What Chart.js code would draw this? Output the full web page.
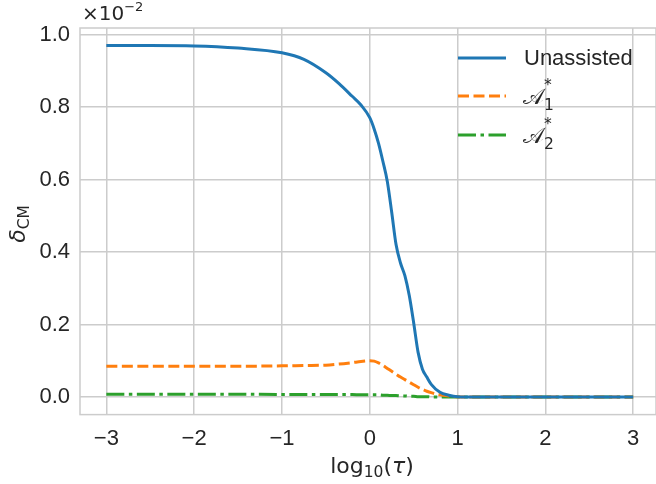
<!DOCTYPE html>
<html>
<head>
<meta charset="utf-8">
<script src="https://cdn.jsdelivr.net/npm/chart.js@4.4.1/dist/chart.umd.min.js"></script>
<style>
  html, body { margin:0; padding:0; background:#fff; overflow:hidden; }
  #wrap { width:656px; height:484px; position:relative; }
</style>
</head>
<body>
<div id="wrap"><canvas id="c"></canvas></div>
<script>
// delta_CM (x 1e-2) vs log10(tau)
const logTau     = [-3, -2.5, -2, -1.5, -1, -0.75, -0.5, -0.35, -0.2, -0.1, 0, 0.05, 0.1, 0.15, 0.2, 0.25, 0.3, 0.35, 0.4, 0.45, 0.5, 0.55, 0.6, 0.65, 0.7, 0.8, 0.9, 1.0, 1.2, 1.5, 2, 2.5, 3];
const unassisted = [0.970, 0.970, 0.969, 0.963, 0.950, 0.932, 0.895, 0.865, 0.830, 0.806, 0.771, 0.740, 0.700, 0.650, 0.595, 0.510, 0.420, 0.370, 0.335, 0.280, 0.205, 0.124, 0.077, 0.055, 0.035, 0.013, 0.005, 0.001, 0, 0, 0, 0, 0];
const astar1     = [0.085, 0.085, 0.085, 0.085, 0.086, 0.087, 0.088, 0.091, 0.095, 0.098, 0.100, 0.099, 0.094, 0.087, 0.079, 0.071, 0.063, 0.055, 0.048, 0.041, 0.034, 0.027, 0.021, 0.016, 0.012, 0.006, 0.003, 0.001, 0, 0, 0, 0, 0];
const astar2     = [0.008, 0.008, 0.008, 0.008, 0.007, 0.007, 0.007, 0.007, 0.007, 0.006, 0.006, 0.006, 0.006, 0.005, 0.005, 0.004, 0.004, 0.003, 0.003, 0.002, 0.002, 0.001, 0.001, 0.001, 0, 0, 0, 0, 0, 0, 0, 0, 0];
const xTicks = [-3, -2, -1, 0, 1, 2, 3];
const yTicks = [0, 0.2, 0.4, 0.6, 0.8, 1.0];

const C = {blue:"#1f77b4", orange:"#ff7f0e", green:"#2ca02c", grid:"#cccccc", text:"#262626"};
const FONT = "'Liberation Sans', Arial, sans-serif";
const MATH = "'DejaVu Sans', sans-serif";

const pts = ys => logTau.map((x, i) => ({x, y: ys[i]}));
const ds = (label, ys, color, dash) => ({label, data: pts(ys), borderColor: color, backgroundColor: color,
  borderWidth: 3, borderDash: dash, pointRadius: 0, cubicInterpolationMode: "monotone", fill: false});

const series = [
  ds("Unassisted", unassisted, C.blue, []),
  ds("A1", astar1, C.orange, [11, 4.5]),
  ds("A2", astar2, C.green, [18, 4.5, 3.5, 4.5]),
];

// draws text pieces left to right: [text, font, dy]
function runs(ctx, parts, x, y, align) {
  const ws = parts.map(p => { ctx.font = p[1]; return ctx.measureText(p[0]).width; });
  const tot = ws.reduce((s, w) => s + w, 0);
  let cx = align === "center" ? x - tot / 2 : x;
  parts.forEach((p, i) => { ctx.font = p[1]; ctx.fillText(p[0], cx, y + (p[2] || 0)); cx += ws[i]; });
}

// frame, axis labels, offset text and legend
const extras = {
  id: "extras",
  afterDatasetsDraw(chart) {
    const {ctx, chartArea: a} = chart;
    ctx.save();
    ctx.strokeStyle = C.grid; ctx.lineWidth = 1.5;
    ctx.strokeRect(a.left, a.top, a.right - a.left, a.bottom - a.top);
    ctx.fillStyle = C.text;
    ctx.textAlign = "left";
    ctx.textBaseline = "alphabetic";

    // offset text
    runs(ctx, [["\u00d710", `20px ${MATH}`], ["\u22122", `13px ${MATH}`, -9]], 82, 20);

    // x title
    runs(ctx, [["log", `22px ${MATH}`], ["10", `15.5px ${MATH}`, 4], ["(", `22px ${MATH}`],
               ["\u03c4", `italic 22px ${MATH}`], [")", `22px ${MATH}`]], 372, 473, "center");

    // y title
    ctx.save();
    ctx.translate(25, 224);
    ctx.rotate(-Math.PI / 2);
    runs(ctx, [["\u03b4", `italic 22px ${MATH}`], ["CM", `15.5px ${MATH}`, 4]], 0, 0, "center");
    ctx.restore();

    // legend
    const rows = [
      {y: 58, ds: series[0]},
      {y: 96, ds: series[1], sub: "1"},
      {y: 135, ds: series[2], sub: "2"},
    ];
    rows.forEach(r => {
      ctx.beginPath();
      ctx.strokeStyle = r.ds.borderColor; ctx.lineWidth = 3;
      ctx.setLineDash(r.ds.borderDash);
      ctx.moveTo(458, r.y); ctx.lineTo(506, r.y); ctx.stroke();
      ctx.setLineDash([]);
      ctx.fillStyle = C.text;
      if (!r.sub) {
        ctx.font = `22px ${FONT}`;
        ctx.textBaseline = "middle";
        ctx.fillText("Unassisted", 524, r.y + 1);
        ctx.textBaseline = "alphabetic";
      } else {
        ctx.font = `22px 'DejaVu Serif', serif`;
        ctx.fillText("\ud835\udc9c", 523, r.y + 8);
        const wa = ctx.measureText("\ud835\udc9c").width;
        ctx.font = `15.5px ${MATH}`;
        ctx.fillText(r.sub, 523 + wa, r.y + 14);
        ctx.fillText("*", 523 + wa, r.y - 6);
      }
    });
    ctx.restore();
  }
};

new Chart(document.getElementById("c"), {
  type: "line",
  data: {datasets: series},
  options: {
    responsive: true, maintainAspectRatio: false, animation: false,
    layout: {padding: {top: 28, right: 0, left: 0, bottom: 0}},
    plugins: {legend: {display: false}, tooltip: {enabled: false}},
    scales: {
      x: {
        type: "linear", min: -3.3, max: 3.26,
        afterBuildTicks: ax => { ax.ticks = xTicks.map(v => ({value: v})); },
        afterFit: ax => { ax.height = 69.4; },
        grid: {color: C.grid, lineWidth: 1.5, drawTicks: false},
        border: {display: false},
        ticks: {color: C.text, padding: 11, font: {family: FONT, size: 22},
          callback: v => (v < 0 ? "\u2212" + Math.abs(v) : String(v))},
      },
      y: {
        type: "linear", min: -0.0485, max: 1.0185,
        afterBuildTicks: ax => { ax.ticks = yTicks.map(v => ({value: v})); },
        afterFit: ax => { ax.width = 80; },
        grid: {color: C.grid, lineWidth: 1.5, drawTicks: false},
        border: {display: false},
        ticks: {color: C.text, padding: 10, font: {family: FONT, size: 22},
          callback: v => v.toFixed(1)},
      },
    },
  },
  plugins: [extras],
});
</script>
</body>
</html>
